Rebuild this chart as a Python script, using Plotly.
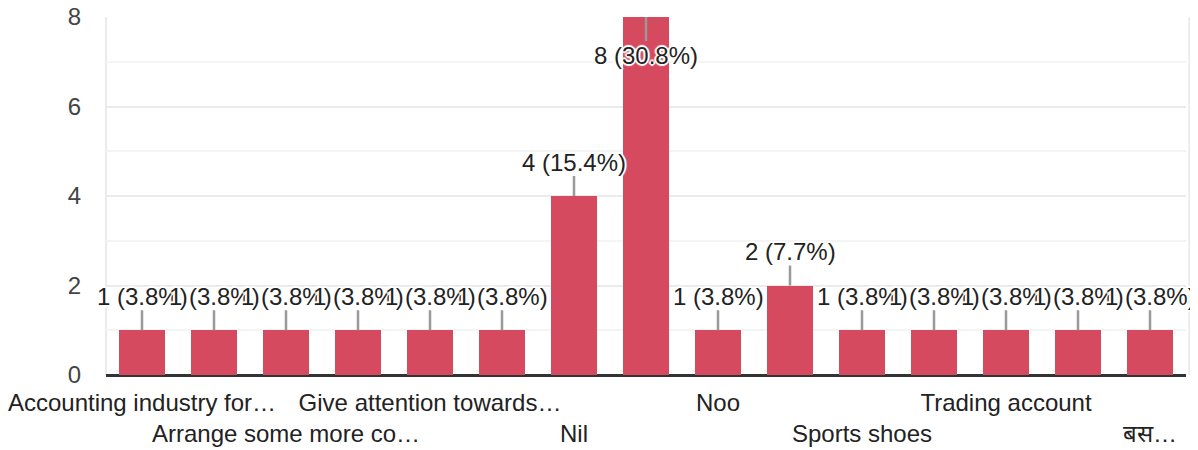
import plotly.graph_objects as go

categories = [
    "Accounting industry for…", "Answer 2", "Arrange some more co…", "Answer 4",
    "Give attention towards…", "Answer 6", "Nil", "No", "Noo", "Answer 10",
    "Sports shoes", "Answer 12", "Trading account", "Answer 14", "बस…",
]
counts = [1, 1, 1, 1, 1, 1, 4, 8, 1, 2, 1, 1, 1, 1, 1]
tick_labels = [
    "Accounting industry for…", "", "<br>Arrange some more co…", "",
    "Give attention towards…", "", "<br>Nil", "", "Noo", "",
    "<br>Sports shoes", "", "Trading account", "", "<br>बस…",
]

total = sum(counts)
x = list(range(len(categories)))
FONT = "Arial, 'Liberation Sans', sans-serif"
FS = 24
halo = "2px 0 1px #fff, -2px 0 1px #fff, 0 2px 1px #fff, 0 -2px 1px #fff, 1px 1px 1px #fff, -1px -1px 1px #fff, 1px -1px 1px #fff, -1px 1px 1px #fff"

fig = go.Figure()
fig.add_trace(go.Bar(
    x=x, y=counts, width=0.64,
    marker=dict(color="#d64a5f", line=dict(width=0)),
    hovertext=categories, hoverinfo="text+y",
))

annotations = []
for xi, v in zip(x, counts):
    pct = v / total * 100
    label = f"{v} ({pct:.1f}%)"
    inside = v >= 8
    annotations.append(dict(
        x=xi, y=v, xref="x", yref="y",
        text=label, showarrow=True, arrowhead=0, arrowwidth=2.5,
        arrowcolor="#999999", ax=0, ay=38 if inside else -34,
        font=dict(family=FONT, size=FS, color="#222222", shadow=halo),
        borderpad=0,
    ))

fig.update_layout(
    width=1182, height=442,
    margin=dict(l=98, r=4, t=9, b=75, autoexpand=False),
    paper_bgcolor="white", plot_bgcolor="white",
    showlegend=False,
    bargap=0,
    annotations=annotations,
    font=dict(family=FONT, size=FS, color="#444444"),
)
fig.update_xaxes(
    range=[-0.5, len(categories) - 0.5],
    tickmode="array", tickvals=x, ticktext=tick_labels,
    tickfont=dict(family=FONT, size=FS, color="#222222"),
    tickangle=0, automargin=False, ticklabelstandoff=11,
    ticklabeloverflow="allow",
    showgrid=False, zeroline=False, showline=False, ticks="",
    mirror=False, fixedrange=True,
)
fig.update_yaxes(
    range=[0, 8], dtick=2, tick0=0,
    showgrid=True, gridcolor="#ebebeb", gridwidth=2,
    minor=dict(dtick=1, showgrid=True, gridcolor="#f4f4f4", gridwidth=2),
    zeroline=True, zerolinecolor="#333333", zerolinewidth=3,
    tickfont=dict(family=FONT, size=FS, color="#444444"),
    ticks="", ticklabelstandoff=24, automargin=False, fixedrange=True,
    ticklabeloverflow="allow",
)
fig.add_shape(type="line", xref="paper", yref="paper", x0=0, x1=0, y0=0, y1=1,
              line=dict(color="#ebebeb", width=2), layer="below")
fig.add_shape(type="line", xref="paper", yref="paper", x0=1.003, x1=1.003, y0=0, y1=1,
              line=dict(color="#ebebeb", width=2), layer="below")

fig.write_html("out.html")
